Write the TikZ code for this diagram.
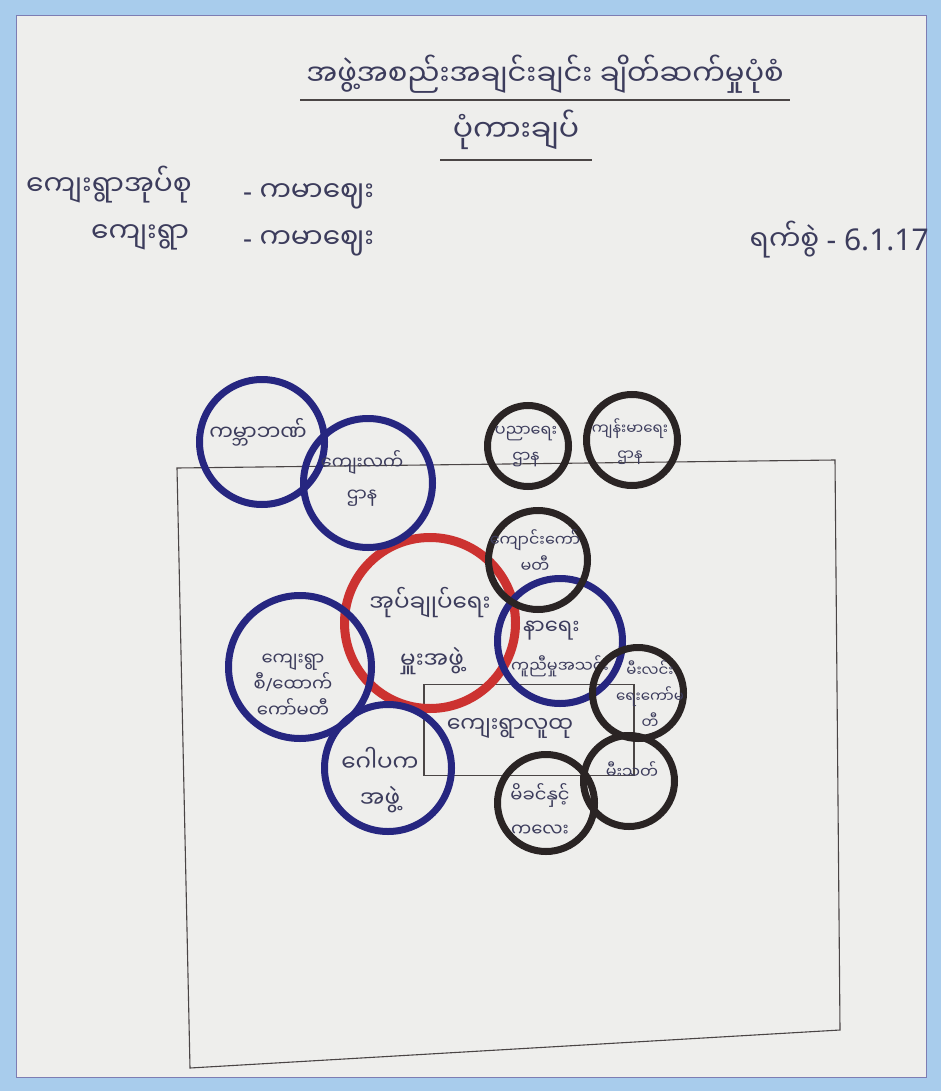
\documentclass[tikz,border=0pt]{standalone}
\usepackage{fontspec}
\setmainfont{Noto Sans}
\newfontfamily\mya[Script=Myanmar]{Noto Sans Myanmar UI}
\newfontfamily\latn{Noto Sans}
\definecolor{inkblue}{RGB}{38,38,128}
\definecolor{inkred}{RGB}{204,50,48}
\definecolor{inkblack}{RGB}{42,36,36}
\definecolor{pen}{RGB}{60,60,92}
\definecolor{framebg}{RGB}{168,204,236}
\definecolor{paper}{RGB}{238,238,236}

\begin{document}
\begin{tikzpicture}[%
    x=1pt, y=-1pt,
ring/.style={circle, inner sep=0pt, line width=7pt},
bluering/.style={ring, draw=inkblue},
blackring/.style={ring, draw=inkblack},
redring/.style={ring, draw=inkred, line width=9pt},
handtext/.style={font=\mya\fontsize{#1}{26}\selectfont, text=pen, align=center, inner sep=1pt},
handtext/.default=18,
headtext/.style={font=\mya\fontsize{#1}{32}\selectfont, text=pen, inner sep=1pt},
headtext/.default=28,
pencil/.style={draw=inkblack!85, line width=1.1pt},
]
\useasboundingbox (0,0) rectangle (941,1091);

% frame and paper
\fill[framebg] (0,0) rectangle (941,1091);
\fill[paper] (16,16) rectangle (926,1077);
\draw[inkblue!60, line width=1pt] (16,16) rectangle (926,1077);

% heading
\node[headtext=29] (title) at (545,74) {အဖွဲ့အစည်းအချင်းချင်း ချိတ်ဆက်မှုပုံစံ};
\coordinate (titleL) at (300,100);
\coordinate (titleR) at (790,100);
\draw[pencil] (titleL) -- (titleR);

\node[headtext=30] (subtitle) at (516,130) {ပုံကားချပ်};
\coordinate (subL) at (440,160);
\coordinate (subR) at (592,160);
\draw[pencil] (subL) -- (subR);

\node[headtext, anchor=west] (tractlabel) at (25,185) {ကျေးရွာအုပ်စု};
\node[headtext, anchor=west] (tractname) at (242,196) {{\latn -} ကမာဈေး};
\node[headtext, anchor=west] (villagelabel) at (90,237) {ကျေးရွာ};
\node[headtext, anchor=west] (villagename) at (242,243) {{\latn -} ကမာဈေး};
\node[headtext, anchor=east] (date) at (930,240) {ရက်စွဲ {\latn\fontsize{30}{32}\selectfont - 6.1.17}};

% outer box
\coordinate (boxNW) at (177,468);
\coordinate (boxNE) at (835,460);
\coordinate (boxSE) at (840,1030);
\coordinate (boxSW) at (190,1068);
\draw[pencil] (boxNW) -- (boxNE) -- (boxSE) -- (boxSW) -- cycle;

% community box
\node[draw=inkblack!85, line width=1.1pt, minimum width=210pt, minimum height=91pt, inner sep=0pt] (community) at (529,730) {};
\node[handtext=22] (communitytext) at (510,728) {ကျေးရွာလူထု};

% red ring
\node[redring, minimum size=171pt] (admin) at (430,623) {};
\node[handtext=23] (admintext1) at (430,603) {အုပ်ချုပ်ရေး};
\node[handtext=23] (admintext2) at (432,661) {မှူးအဖွဲ့};

% blue rings
\node[bluering, minimum size=125pt] (worldbank) at (262,442) {};
\node[handtext=21] (worldbanktext) at (258,432) {ကမ္ဘာဘဏ်};

\node[bluering, minimum size=129pt] (ruraldept) at (368,483) {};
\node[handtext] (ruraldepttext) at (362,478) {ကျေးလက်\\[6pt]ဌာန};

\node[bluering, minimum size=125pt] (funeral) at (560,641) {};
\node[handtext=21, anchor=west] (funeraltext1) at (522,631) {နာရေး};
\node[handtext=16, anchor=west] (funeraltext2) at (510,666) {ကူညီမှုအသင်း};

\node[bluering, minimum size=143pt] (villagedev) at (300,667) {};
\node[handtext] (villagedevtext) at (293,686) {ကျေးရွာ\\စီ{\latn /}ထောက်\\ကော်မတီ};

\node[bluering, minimum size=127pt] (gopaka) at (388,768) {};
\node[handtext=23] (gopakatext) at (380,780) {ဂေါပက\\[10pt]အဖွဲ့};

% black rings
\node[blackring, minimum size=81pt] (education) at (528,446) {};
\node[handtext=16] (educationtext) at (526,447) {ပညာရေး\\ဌာန};

\node[blackring, minimum size=91pt] (health) at (632,440) {};
\node[handtext=15] (healthtext) at (630,442) {ကျန်းမာရေး\\ဌာန};

\node[blackring, minimum size=99pt] (school) at (538,560) {};
\node[handtext=16] (schooltext) at (535,551) {ကျောင်းကော်\\မတီ};

\node[blackring, minimum size=91pt] (lighting) at (638,693) {};
\node[handtext=15] (lightingtext) at (650,695) {မီးလင်း\\ရေးကော်မ\\တီ};

\node[blackring, minimum size=91pt] (fire) at (629,781) {};
\node[handtext=16] (firetext) at (632,770) {မီးသတ်};

\node[blackring, minimum size=97pt] (mother) at (546,803) {};
\node[handtext] (mothertext) at (540,810) {မိခင်နှင့်\\[8pt]ကလေး};

\end{tikzpicture}
\end{document}
